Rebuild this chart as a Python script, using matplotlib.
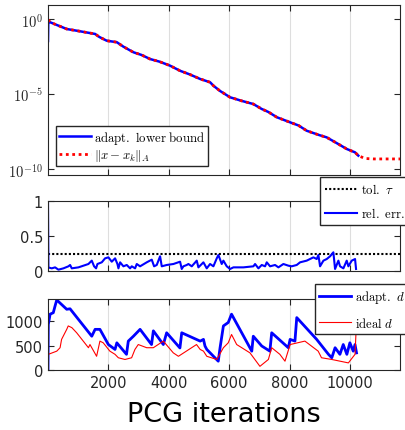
import numpy as np
import matplotlib
matplotlib.use("Agg")
import matplotlib.pyplot as plt

plt.rcParams['mathtext.fontset'] = 'cm'
plt.rcParams['font.family'] = 'DejaVu Sans'

# top panel: error estimate (log10 values)
it_err = [0, 10, 70, 620, 1000, 1560, 1700, 1945, 2280, 2500, 2830, 3100,
          3380, 3700, 4040, 4370, 4700, 5040, 5370, 5480, 5700, 6030, 6400,
          6800, 7080, 7300, 7580, 8020, 8300, 8570, 9000, 9230, 9500, 9900,
          10170, 10280]
lb_log = [-1.47, -0.15, -0.22, -0.67, -0.8, -1.0, -1.2, -1.45, -1.55, -1.85,
          -2.22, -2.4, -2.67, -2.85, -3.11, -3.45, -3.7, -4.0, -4.22, -4.45,
          -4.8, -5.22, -5.45, -5.67, -6.0, -6.2, -6.55, -6.89, -7.1, -7.45,
          -7.75, -7.89, -8.2, -8.67, -8.89, -9.11]
it_true = it_err[1:] + [10500, 10800, 11200, 11660]
true_log = [-0.05] + lb_log[2:] + [-9.3, -9.33, -9.33, -9.33]

# middle panel: relative error
it_rel = [0, 14, 125, 235, 345, 511, 677, 732, 787, 1008, 1339, 1450, 1527,
          1593, 1637, 1781, 1891, 2001, 2112, 2222, 2300, 2333, 2388, 2498,
          2609, 2719, 2774, 2885, 2940, 3050, 3271, 3437, 3514, 3602, 3713,
          3768, 3934, 4154, 4375, 4430, 4485, 4596, 4651, 4762, 4927, 4982,
          5093, 5148, 5258, 5369, 5479, 5590, 5645, 5755, 5810, 5921, 6031,
          6142, 6473, 6804, 6859, 6970, 7080, 7191, 7246, 7356, 7522, 7632,
          7797, 7963, 8073, 8239, 8350, 8570, 8791, 8902, 8957, 9012, 9123,
          9233, 9343, 9453, 9509, 9619, 9674, 9785, 9895, 9950, 10061, 10171,
          10204]
rel_err = [1.0, 0.05, 0.038, 0.052, 0.019, 0.038, 0.067, 0.086, 0.038, 0.052,
           0.1, 0.148, 0.067, 0.038, 0.1, 0.124, 0.181, 0.195, 0.133, 0.181,
           0.1, 0.038, 0.124, 0.067, 0.086, 0.038, 0.067, 0.038, 0.1, 0.067,
           0.124, 0.162, 0.067, 0.086, 0.21, 0.067, 0.086, 0.1, 0.133, 0.029,
           0.067, 0.086, 0.1, 0.067, 0.148, 0.052, 0.1, 0.124, 0.038, 0.1,
           0.067, 0.181, 0.229, 0.1, 0.148, 0.067, 0.029, 0.052, 0.052, 0.067,
           0.1, 0.038, 0.086, 0.067, 0.124, 0.067, 0.086, 0.052, 0.1, 0.076,
           0.067, 0.086, 0.124, 0.148, 0.195, 0.171, 0.229, 0.067, 0.148,
           0.171, 0.21, 0.267, 0.029, 0.148, 0.067, 0.038, 0.148, 0.067,
           0.148, 0.171, 0.029]
tol = 0.25

# bottom panel: delay d
it_ad = [0, 10, 70, 175, 235, 290, 620, 730, 1450, 1560, 1720, 2000, 2220,
         2280, 2600, 2660, 2830, 3050, 3430, 3490, 3820, 3930, 4370, 4430,
         5040, 5150, 5200, 5260, 5640, 5700, 5810, 5970, 6080, 6750, 6800,
         7080, 7350, 7410, 7960, 8020, 8180, 8240, 8900, 9290, 9400, 9510,
         9670, 9780, 9900, 10000, 10110, 10170, 10220]
d_adapt = [0, 930, 1140, 1170, 1310, 1430, 1240, 1250, 690, 830, 830, 520,
           420, 555, 320, 590, 690, 830, 520, 800, 520, 760, 450, 760, 590,
           625, 490, 420, 180, 455, 900, 970, 1140, 385, 690, 490, 385, 760,
           455, 625, 590, 1070, 625, 320, 250, 455, 320, 520, 320, 555, 385,
           520, 350]
it_id = [10, 290, 400, 450, 620, 670, 790, 950, 1340, 1390, 1610, 1720, 1830,
         2050, 2220, 2330, 2550, 2770, 2880, 2990, 3270, 3490, 3820, 4150,
         4320, 4920, 5040, 5150, 5260, 5590, 5810, 5970, 6080, 6250, 6690,
         7020, 7300, 7410, 7680, 7850, 8020, 8510, 8950, 9060, 9400, 9950,
         10170, 10220]
d_ideal = [320, 385, 455, 625, 830, 900, 865, 760, 455, 520, 280, 590, 555,
           385, 320, 250, 215, 250, 420, 520, 455, 455, 590, 350, 280, 520,
           420, 385, 280, 215, 455, 555, 725, 520, 350, 75, 215, 455, 320,
           180, 520, 590, 385, 250, 215, 145, 320, 1000]

xmax = 11660
xt = [2000, 4000, 6000, 8000, 10000]
W, H = 406, 431
fig = plt.figure(figsize=(W / 100, H / 100), dpi=100)

def make_ax(y0, y1):
    ax = fig.add_axes([48 / W, 1 - y1 / H, 352 / W, (y1 - y0) / H])
    ax.set_xlim(0, xmax)
    ax.set_xticks(xt)
    ax.grid(True, axis='x', color='#dedede', lw=0.8)
    ax.tick_params(direction='in', top=True, right=True, length=4,
                   labelsize=10.5, colors='#262626', width=0.8)
    for s in ax.spines.values():
        s.set_color('#262626')
        s.set_linewidth(0.8)
    return ax

leg_kw = dict(fontsize=9.2, fancybox=False, edgecolor='#262626',
              framealpha=1, handlelength=2.5, handletextpad=0.3,
              borderaxespad=0, bbox_transform=fig.transFigure)

# top
ax1 = make_ax(6, 176)
ax1.semilogy(it_err, 10.0 ** np.array(lb_log), color='blue', lw=1.8,
             label=r'$\mathrm{adapt.\ lower\ bound}$')
ax1.semilogy(it_true, 10.0 ** np.array(true_log), color='red', lw=2,
             ls=(0, (1, 1.3)), label=r'$\Vert x-x_k\Vert_A$')
ax1.set_ylim(10 ** -10.4, 10 ** 0.93)
ax1.set_yticks([1e-10, 1e-5, 1])
ax1.set_yticklabels([r'$10^{-10}$', r'$10^{-5}$', r'$10^{0}$'])
ax1.yaxis.set_minor_locator(matplotlib.ticker.NullLocator())
ax1.set_xticklabels([])
ax1.legend(loc='lower left', bbox_to_anchor=(56 / W, 1 - 167 / H),
           labelspacing=0.12, borderpad=0.2, **leg_kw)

# middle
ax2 = make_ax(202, 272)
ax2.plot([0, xmax], [tol, tol], color='black', lw=1.5, ls=(0, (1, 1)),
         label=r'$\mathrm{tol.}\ \tau$')
ax2.plot(it_rel, rel_err, color='blue', lw=1.5, label=r'$\mathrm{rel.\ err.}$')
ax2.set_ylim(0, 1)
ax2.set_yticks([0, 0.5, 1])
ax2.set_yticklabels(['0', '0.5', '1'])
ax2.set_xticklabels([])
ax2.legend(loc='upper left', bbox_to_anchor=(320 / W, 1 - 178 / H),
           labelspacing=0.8, borderpad=0.4, **leg_kw)

# bottom
ax3 = make_ax(300, 371)
ax3.plot(it_ad, d_adapt, color='blue', lw=2, label=r'$\mathrm{adapt.}\ d$')
ax3.plot(it_id, d_ideal, color='red', lw=0.8, label=r'$\mathrm{ideal}\ d$')
ax3.set_ylim(0, 1450)
ax3.set_yticks([0, 500, 1000])
ax3.legend(loc='upper left', bbox_to_anchor=(315 / W, 1 - 285 / H),
           labelspacing=0.8, borderpad=0.35, **leg_kw)
ax3.set_xlabel('PCG iterations', fontsize=19.5, color='black', labelpad=8)

fig.savefig('out.png', dpi=100)
